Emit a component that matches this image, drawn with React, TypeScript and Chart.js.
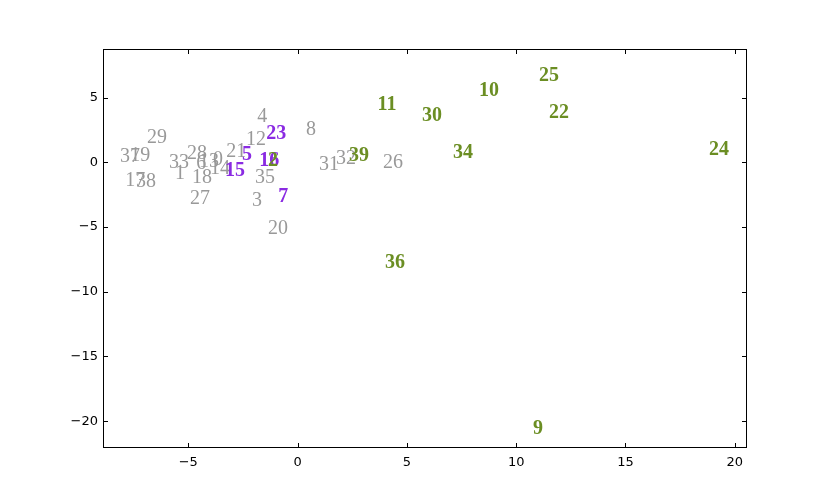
import React, { useEffect, useRef } from "react";
import { Chart, registerables } from "chart.js";

Chart.register(...registerables);

// Point ids and their coordinates
const pointIds = [
  0, 1, 2, 3, 4, 5, 6, 7, 8, 9, 10, 11, 12, 13, 14, 15, 16, 17, 18, 19,
  20, 21, 22, 23, 24, 25, 26, 27, 28, 29, 30, 31, 32, 33, 34, 35, 36, 37, 38, 39,
];
const xValues = [
  -3.64, -5.38, -1.12, -1.85, -1.62, -2.31, -4.41, -0.66, 0.62, 11.0,
  8.76, 4.09, -1.9, -4.05, -3.55, -2.86, -1.3, -7.43, -4.37, -7.2,
  -0.89, -2.81, 11.96, -0.98, 19.28, 11.5, 4.37, -4.46, -4.6, -6.43,
  6.15, 1.44, 2.22, -5.42, 7.57, -1.49, 4.46, -7.66, -6.93, 2.81,
];
const yValues = [
  0.34, -0.74, 0.26, -2.83, 3.67, 0.73, 0.03, -2.52, 2.66, -20.46,
  5.67, 4.59, 1.89, 0.19, -0.36, -0.51, 0.26, -1.28, -1.05, 0.65,
  -4.98, 0.96, 3.97, 2.35, 1.11, 6.84, 0.11, -2.68, 0.8, 2.04,
  3.74, -0.05, 0.42, 0.11, 0.88, -1.05, -7.63, 0.57, -1.36, 0.65,
];
const purpleIds = [5, 7, 15, 16, 23];
const greenIds = [2, 9, 10, 11, 22, 24, 25, 30, 34, 36, 39];

const xTicks = [-5, 0, 5, 10, 15, 20];
const yTicks = [-20, -15, -10, -5, 0, 5];
const xMin = -8.9;
const xMax = 20.56;
const yMin = -22.07;
const yMax = 8.75;

const GRAY = "#999999";
const PURPLE = "#8a2be2";
const GREEN = "#6b8e23";

function groupData(filter: (id: number) => boolean) {
  return pointIds
    .map((id, i) => ({ x: xValues[i], y: yValues[i], id }))
    .filter((p) => filter(p.id));
}

const labelPlugin = {
  id: "textLabels",
  afterDatasetsDraw(chart: any) {
    const ctx = chart.ctx;
    ctx.save();
    chart.data.datasets.forEach((ds: any, di: number) => {
      const meta = chart.getDatasetMeta(di);
      ctx.fillStyle = ds.textColor;
      ctx.font = `${ds.textWeight} 20px "Liberation Serif", serif`;
      ctx.textAlign = "center";
      ctx.textBaseline = "middle";
      meta.data.forEach((el: any, i: number) => {
        ctx.fillText(String(ds.data[i].id), el.x, el.y + 2);
      });
    });
    ctx.restore();
  },
  afterDraw(chart: any) {
    const { ctx, chartArea: a, scales } = chart;
    ctx.save();
    ctx.strokeStyle = "#000";
    ctx.lineWidth = 1;
    ctx.strokeRect(a.left + 0.5, a.top + 0.5, a.right - a.left - 1, a.bottom - a.top - 1);
    const len = 5;
    ctx.beginPath();
    xTicks.forEach((v) => {
      const px = Math.round(scales.x.getPixelForValue(v)) + 0.5;
      ctx.moveTo(px, a.bottom);
      ctx.lineTo(px, a.bottom - len);
      ctx.moveTo(px, a.top);
      ctx.lineTo(px, a.top + len);
    });
    yTicks.forEach((v) => {
      const py = Math.round(scales.y.getPixelForValue(v)) + 0.5;
      ctx.moveTo(a.left, py);
      ctx.lineTo(a.left + len, py);
      ctx.moveTo(a.right, py);
      ctx.lineTo(a.right - len, py);
    });
    ctx.stroke();
    ctx.restore();
  },
};

const fmt = (v: number) => (v < 0 ? "\u2212" + Math.abs(v) : String(v));

export default function App() {
  const ref = useRef<HTMLCanvasElement | null>(null);
  useEffect(() => {
    if (!ref.current) return;
    const chart = new Chart(ref.current, {
      type: "scatter",
      data: {
        datasets: [
          {
            data: groupData((id) => !purpleIds.includes(id) && !greenIds.includes(id)),
            pointRadius: 0,
            textColor: GRAY,
            textWeight: "normal",
          } as any,
          {
            data: groupData((id) => purpleIds.includes(id)),
            pointRadius: 0,
            textColor: PURPLE,
            textWeight: "bold",
          } as any,
          {
            data: groupData((id) => greenIds.includes(id)),
            pointRadius: 0,
            textColor: GREEN,
            textWeight: "bold",
          } as any,
        ],
      },
      options: {
        animation: false,
        responsive: false,
        devicePixelRatio: 1,
        layout: { padding: { left: 0, right: 83, top: 49, bottom: 0 } },
        plugins: { legend: { display: false }, tooltip: { enabled: false } },
        scales: {
          x: {
            type: "linear",
            min: xMin,
            max: xMax,
            grid: { display: false, drawTicks: false },
            border: { display: false },
            afterBuildTicks: (s: any) => {
              s.ticks = xTicks.map((v) => ({ value: v }));
            },
            afterFit: (s: any) => {
              s.height = 50;
            },
            ticks: {
              padding: 7,
              color: "#000",
              maxRotation: 0,
              font: { family: '"DejaVu Sans", sans-serif', size: 13 },
              callback: (v: any) => fmt(Number(v)),
            },
          },
          y: {
            type: "linear",
            min: yMin,
            max: yMax,
            grid: { display: false, drawTicks: false },
            border: { display: false },
            afterBuildTicks: (s: any) => {
              s.ticks = yTicks.map((v) => ({ value: v }));
            },
            afterFit: (s: any) => {
              s.width = 103;
            },
            ticks: {
              padding: 5,
              color: "#000",
              font: { family: '"DejaVu Sans", sans-serif', size: 13 },
              callback: (v: any) => fmt(Number(v)),
            },
          },
        },
      },
      plugins: [labelPlugin],
    });
    return () => chart.destroy();
  }, []);
  return (
    <div style={{ position: "absolute", left: 0, top: 0, width: 830, height: 498, background: "#fff" }}>
      <canvas ref={ref} width={830} height={498} />
    </div>
  );
}
